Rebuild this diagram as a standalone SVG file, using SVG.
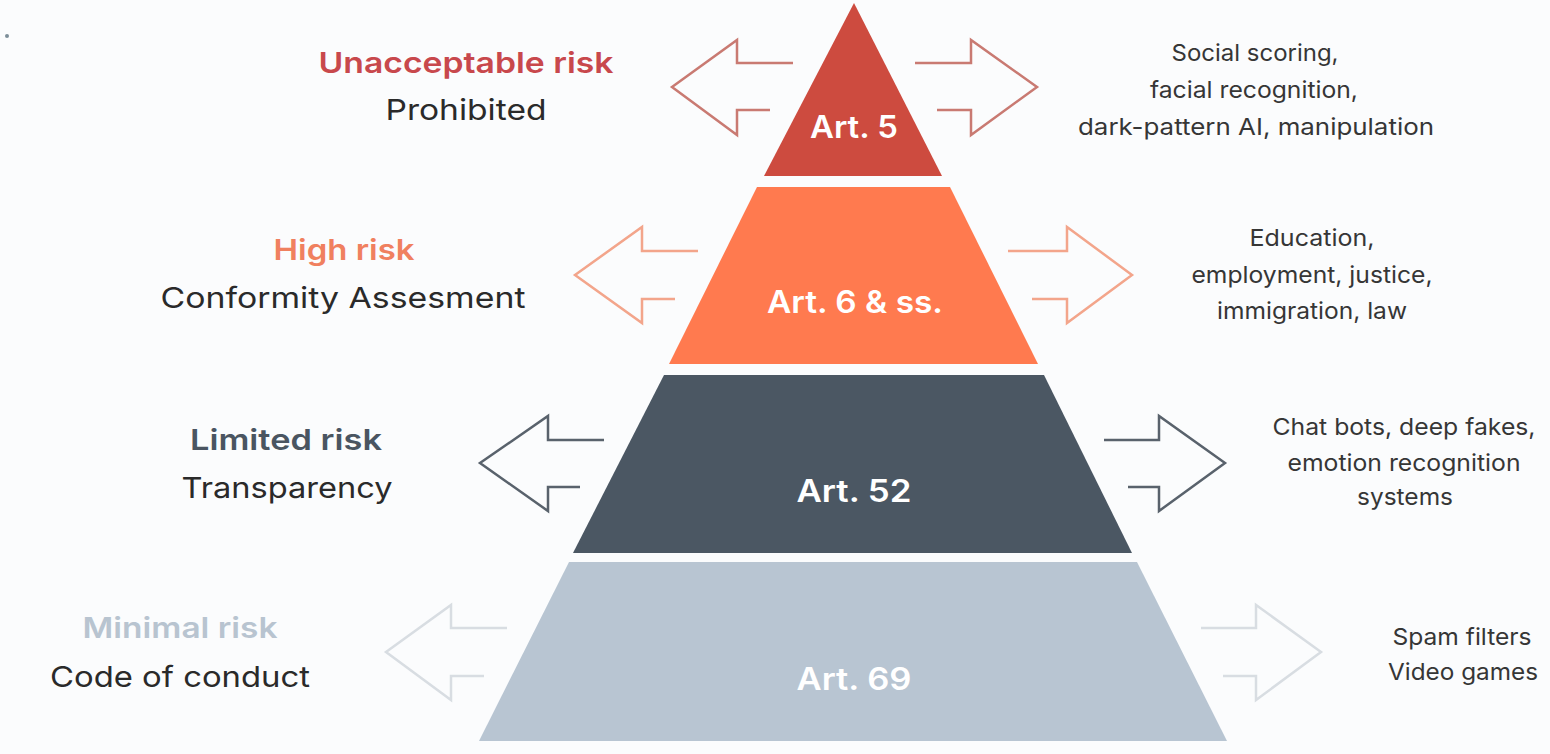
<svg xmlns="http://www.w3.org/2000/svg" width="1550" height="754" viewBox="0 0 1550 754">
  <style>
    .art { font-family: Inter, "Liberation Sans", sans-serif; font-weight: 600; font-size: 31px; fill: #ffffff; text-anchor: middle; }
    .title { font-family: Inter, "Liberation Sans", sans-serif; font-weight: 600; font-size: 29px; text-anchor: middle; }
    .sub { font-family: Inter, "Liberation Sans", sans-serif; font-weight: 400; font-size: 29px; fill: #2a2a2a; text-anchor: middle; }
    .ex { font-family: Inter, "Liberation Sans", sans-serif; font-weight: 400; font-size: 23.5px; fill: #363636; text-anchor: middle; }
    .arr { fill: none; stroke-width: 2.5; stroke-linejoin: miter; }
  </style>
  <rect x="0" y="0" width="1550" height="754" fill="#fbfcfd"/>
  <circle cx="7" cy="36" r="2" fill="#7c8e99"/>

  <g id="connectors">
    <path class="arr" stroke="#c97a72" d="M793,63 L737,63 L737,40 L672,87 L737,135 L737,110 L770,110"/>
    <path class="arr" stroke="#c97a72" d="M915,63 L971,63 L971,40 L1037,87 L971,135 L971,110 L937,110"/>
    <path class="arr" stroke="#f3a58b" d="M698,251 L642,251 L642,227 L575,275 L642,323 L642,299 L675,299"/>
    <path class="arr" stroke="#f3a58b" d="M1008,251 L1067,251 L1067,227 L1132,275 L1067,323 L1067,299 L1032,299"/>
    <path class="arr" stroke="#59626c" d="M604,440 L548,440 L548,416 L480,463 L548,511 L548,487 L580,487"/>
    <path class="arr" stroke="#59626c" d="M1104,440 L1159,440 L1159,416 L1225,463 L1159,511 L1159,487 L1128,487"/>
    <path class="arr" stroke="#d8dde2" d="M507,628 L451,628 L451,605 L386,652 L451,700 L451,676 L484,676"/>
    <path class="arr" stroke="#d8dde2" d="M1201,628 L1256,628 L1256,605 L1321,652 L1256,700 L1256,676 L1223,676"/>
  </g>

  <g id="tier-unacceptable">
    <polygon points="854,3 942,176 764,176" fill="#cd4b3f"/>
    <text class="art" x="854" y="138" textLength="88" lengthAdjust="spacingAndGlyphs">Art. 5</text>
  </g>
  <g id="tier-high">
    <polygon points="757,187 950,187 1038,364 669,364" fill="#ff7a4f"/>
    <text class="art" x="855" y="313" textLength="176" lengthAdjust="spacingAndGlyphs">Art. 6 &amp; ss.</text>
  </g>
  <g id="tier-limited">
    <polygon points="664,375 1044,375 1132,553 573,553" fill="#4b5763"/>
    <text class="art" x="854" y="502" textLength="115" lengthAdjust="spacingAndGlyphs">Art. 52</text>
  </g>
  <g id="tier-minimal">
    <polygon points="569,562 1137,562 1227,741 479,741" fill="#b8c5d2"/>
    <text class="art" x="854" y="690" textLength="115" lengthAdjust="spacingAndGlyphs" fill="#f2f5f8">Art. 69</text>
  </g>

  <g id="label-unacceptable">
    <text class="title" x="466" y="73" fill="#c8484c" textLength="295" lengthAdjust="spacingAndGlyphs">Unacceptable risk</text>
    <text class="sub" x="466" y="120" textLength="161" lengthAdjust="spacingAndGlyphs">Prohibited</text>
  </g>
  <g id="label-high">
    <text class="title" x="344" y="260" fill="#f0805f" textLength="141" lengthAdjust="spacingAndGlyphs">High risk</text>
    <text class="sub" x="343" y="308" textLength="365" lengthAdjust="spacingAndGlyphs">Conformity Assesment</text>
  </g>
  <g id="label-limited">
    <text class="title" x="286" y="450" fill="#4a5561" textLength="192" lengthAdjust="spacingAndGlyphs">Limited risk</text>
    <text class="sub" x="287" y="498" textLength="211" lengthAdjust="spacingAndGlyphs">Transparency</text>
  </g>
  <g id="label-minimal">
    <text class="title" x="180" y="638" fill="#b8c4d0" textLength="195" lengthAdjust="spacingAndGlyphs">Minimal risk</text>
    <text class="sub" x="180" y="687" textLength="260" lengthAdjust="spacingAndGlyphs">Code of conduct</text>
  </g>

  <g id="examples-unacceptable">
    <text class="ex" x="1255" y="61" textLength="167" lengthAdjust="spacingAndGlyphs">Social scoring,</text>
    <text class="ex" x="1254" y="98" textLength="208" lengthAdjust="spacingAndGlyphs">facial recognition,</text>
    <text class="ex" x="1256" y="135" textLength="356" lengthAdjust="spacingAndGlyphs">dark-pattern AI, manipulation</text>
  </g>
  <g id="examples-high">
    <text class="ex" x="1312" y="246" textLength="125" lengthAdjust="spacingAndGlyphs">Education,</text>
    <text class="ex" x="1312" y="283" textLength="241" lengthAdjust="spacingAndGlyphs">employment, justice,</text>
    <text class="ex" x="1312" y="319" textLength="190" lengthAdjust="spacingAndGlyphs">immigration, law</text>
  </g>
  <g id="examples-limited">
    <text class="ex" x="1404" y="435" textLength="263" lengthAdjust="spacingAndGlyphs">Chat bots, deep fakes,</text>
    <text class="ex" x="1404" y="471" textLength="233" lengthAdjust="spacingAndGlyphs">emotion recognition</text>
    <text class="ex" x="1405" y="505" textLength="96" lengthAdjust="spacingAndGlyphs">systems</text>
  </g>
  <g id="examples-minimal">
    <text class="ex" x="1462" y="645" textLength="139" lengthAdjust="spacingAndGlyphs">Spam filters</text>
    <text class="ex" x="1463" y="680" textLength="150" lengthAdjust="spacingAndGlyphs">Video games</text>
  </g>
</svg>
